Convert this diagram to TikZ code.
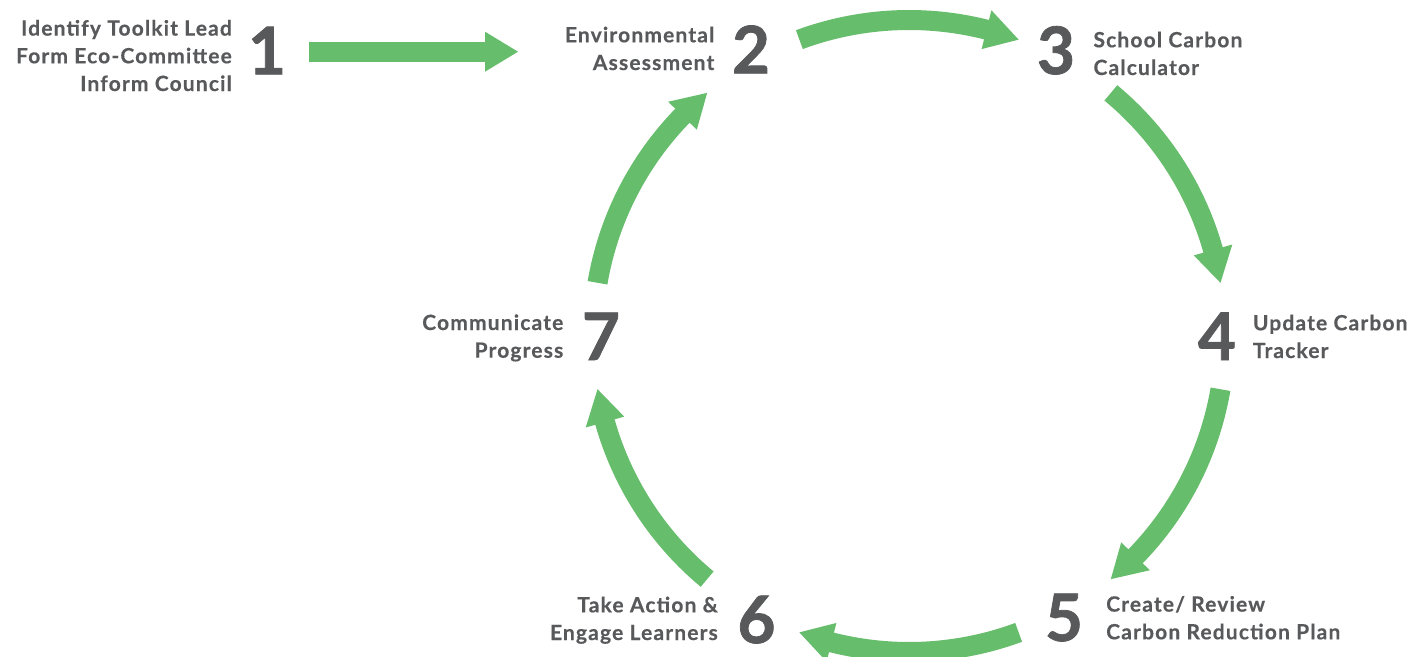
\documentclass[tikz,border=0pt]{standalone}
\usepackage{fontspec}
\setmainfont{Lato}[LetterSpace=5.5, BoldFeatures={FakeBold=0.4}]
\newfontfamily\numfont{Lato Bold}[FakeBold=1.2]
\definecolor{leaf}{HTML}{66BD6B}
\definecolor{ink}{HTML}{58595B}
\begin{document}
\begin{tikzpicture}[x=1pt,y=-1pt,
  lbl/.style={inner sep=0pt, text=ink, font=\bfseries\fontsize{21}{27.7}\selectfont},
  num/.style={inner sep=0pt, text=ink, anchor=base, font=\numfont\fontsize{65.5}{65.5}\selectfont},
  shaft/.style={draw=leaf, line width=20pt, line cap=butt},
  head/.style={fill=leaf, draw=none}]
\useasboundingbox (0,0) rectangle (1413,656);
\clip (0,0) rectangle (1413,656);
\fill[white] (0,0) rectangle (1413,656);

% step numbers
\node[num] (n1) at (267,74.3) {1};
\node[num] (n2) at (751,73.3) {2};
\node[num] (n3) at (1056,74) {3};
\node[num] (n4) at (1217,360) {4};
\node[num] (n5) at (1064,641) {5};
\node[num] (n6) at (756.5,643) {6};
\node[num] (n7) at (601,360) {7};

% step labels (anchored on the baseline of their last line)
\node[lbl, align=right, anchor=base east] (t1) at (232,91) {Identify Toolkit Lead\\Form Eco-Committee\\Inform Council};
\node[lbl, align=right, anchor=base east] (t2) at (714.5,70) {Environmental\\Assessment};
\node[lbl, align=left, anchor=base west] (t3) at (1093.3,75) {School Carbon\\Calculator};
\node[lbl, align=left, anchor=base west] (t4) at (1252.7,358) {Update Carbon\\Tracker};
\node[lbl, align=left, anchor=base west] (t5) at (1106,639.3) {Create/ Review\\Carbon Reduction Plan};
\node[lbl, align=right, anchor=base east] (t6) at (718,640) {Take Action \&\\Engage Learners};
\node[lbl, align=right, anchor=base east] (t7) at (563.5,357.7) {Communicate\\Progress};

% straight arrow from step 1 into the cycle
\coordinate (a1s) at (309,51.7);
\coordinate (a1b) at (485,51.7);
\coordinate (a1t) at (518,51.7);
\draw[shaft] (a1s) -- ([xshift=1pt]a1b);
\fill[head] ([yshift=20pt]a1b) -- ([yshift=-20pt]a1b) -- (a1t) -- cycle;

% ring of curved arrows, clockwise, centred on C
\coordinate (C) at (909,336);
\foreach \c in {90,30,-30,-90,-150,150}{
  \pgfmathsetmacro\angTail{-(\c+20.3)}
  \pgfmathsetmacro\angBase{-(\c-14.2)}
  \pgfmathsetmacro\angJoin{-(\c-14.7)}
  \pgfmathsetmacro\angTip{-(\c-20.3)}
  \draw[shaft] ([shift={(\angTail:316)}]C) arc[start angle=\angTail, end angle=\angJoin, radius=316];
  \fill[head] ([shift={(\angBase:296)}]C) -- ([shift={(\angBase:336)}]C) -- ([shift={(\angTip:316)}]C) -- cycle;
}
\end{tikzpicture}
\end{document}
